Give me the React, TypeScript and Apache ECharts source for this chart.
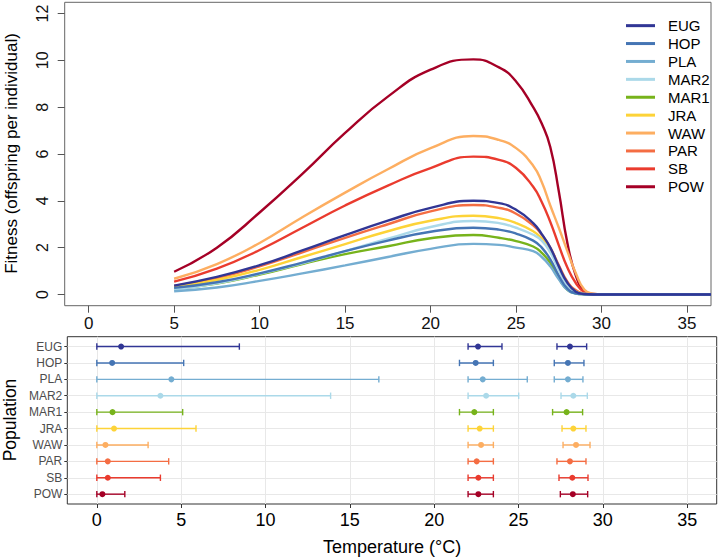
import React, { useEffect, useRef } from 'react';
import * as echarts from 'echarts';

const populations = ['EUG', 'HOP', 'PLA', 'MAR2', 'MAR1', 'JRA', 'WAW', 'PAR', 'SB', 'POW'];
const colors = ['#313695', '#4575b4', '#74add1', '#abd9e9', '#77b31b', '#fdd338', '#fdae61', '#f46d43', '#ea3b2e', '#a50026'];

// Temperature grid (°C) of the fitness curves
const temps = [5, 7.5, 10, 12.5, 15, 17.5, 20, 22.5, 24, 25, 26, 26.5, 27, 27.5, 28, 28.5, 29, 29.5, 30, 36.4];

const fitEUG = [0.38, 0.75, 1.25, 1.88, 2.53, 3.15, 3.7, 4.0, 3.9, 3.62, 3.05, 2.58, 2.0, 1.2, 0.5, 0.12, 0.02, 0, 0, 0];
const fitHOP = [0.28, 0.52, 0.9, 1.36, 1.85, 2.3, 2.68, 2.85, 2.77, 2.6, 2.3, 2.0, 1.5, 0.8, 0.25, 0.05, 0.01, 0, 0, 0];
const fitPLA = [0.14, 0.3, 0.58, 0.9, 1.24, 1.6, 1.95, 2.16, 2.12, 2.0, 1.85, 1.6, 1.2, 0.65, 0.2, 0.04, 0.01, 0, 0, 0];
const fitMAR2 = [0.22, 0.48, 0.88, 1.33, 1.85, 2.38, 2.88, 3.14, 3.05, 2.85, 2.55, 2.3, 1.8, 1.05, 0.4, 0.1, 0.02, 0, 0, 0];
const fitMAR1 = [0.25, 0.47, 0.85, 1.3, 1.72, 2.06, 2.4, 2.54, 2.42, 2.28, 2.05, 1.78, 1.35, 0.7, 0.2, 0.04, 0.01, 0, 0, 0];
const fitJRA = [0.32, 0.62, 1.05, 1.6, 2.15, 2.7, 3.15, 3.36, 3.26, 3.05, 2.7, 2.4, 1.9, 1.1, 0.45, 0.12, 0.02, 0, 0, 0];
const fitWAW = [0.67, 1.3, 2.2, 3.3, 4.35, 5.35, 6.25, 6.77, 6.6, 6.25, 5.5, 4.8, 3.8, 2.85, 1.85, 0.9, 0.2, 0.03, 0, 0];
const fitPAR = [0.36, 0.7, 1.2, 1.8, 2.42, 3.0, 3.55, 3.82, 3.7, 3.45, 2.95, 2.55, 2.0, 1.25, 0.55, 0.18, 0.04, 0, 0, 0];
const fitSB = [0.55, 1.1, 1.9, 2.85, 3.8, 4.65, 5.4, 5.89, 5.75, 5.4, 4.6, 3.95, 3.1, 2.1, 1.15, 0.48, 0.1, 0.01, 0, 0];
const fitPOW = [0.97, 2.0, 3.5, 5.15, 6.9, 8.45, 9.6, 10.04, 9.7, 9.1, 8.0, 7.3, 6.3, 4.4, 2.2, 0.8, 0.15, 0.02, 0, 0];

// Lower, optimum and upper thermal estimates with their intervals
const lowLo = [0, 0, 0, 0, 0, 0, 0, 0, 0, 0];
const lowMid = [1.44, 0.91, 4.42, 3.77, 0.93, 1.02, 0.51, 0.65, 0.65, 0.33];
const lowHi = [8.45, 5.15, 16.72, 13.86, 5.09, 5.88, 3.04, 4.26, 3.77, 1.66];
const optLo = [22.01, 21.5, 22.01, 22.01, 21.5, 22.01, 22.01, 22.01, 22.01, 22.01];
const optMid = [22.6, 22.46, 22.88, 23.08, 22.38, 22.7, 22.78, 22.52, 22.62, 22.62];
const optHi = [24.02, 23.51, 25.52, 25.01, 23.51, 23.51, 23.51, 23.51, 23.51, 23.51];
const maxLo = [27.28, 27.12, 27.12, 27.52, 27.02, 27.58, 27.64, 27.28, 27.4, 27.48];
const maxMid = [28.05, 27.93, 27.93, 28.25, 27.85, 28.25, 28.41, 28.05, 28.19, 28.22];
const maxHi = [29.04, 28.88, 28.82, 29.08, 28.8, 29.0, 29.24, 29.0, 29.12, 29.1];

const xTicks = [0, 5, 10, 15, 20, 25, 30, 35];
const yTicks = [0, 2, 4, 6, 8, 10, 12];
const rowTicks = [1, 2, 3, 4, 5, 6, 7, 8, 9, 10];

const FONT = '"Liberation Sans", Arial, Helvetica, sans-serif';

export default function App() {
  const ref = useRef<HTMLDivElement>(null);

  useEffect(() => {
    if (!ref.current) return;
    const chart = echarts.init(ref.current, null, { renderer: 'svg' });
    const fitness = [fitEUG, fitHOP, fitPLA, fitMAR2, fitMAR1, fitJRA, fitWAW, fitPAR, fitSB, fitPOW];

    const lineSeries = populations
      .map((p, i) => ({
        type: 'line',
        name: p,
        xAxisIndex: 0,
        yAxisIndex: 0,
        data: temps.map((t, j) => [t, fitness[i][j]]),
        smooth: 0.5,
        symbol: 'none',
        showSymbol: false,
        lineStyle: { width: 2.4, color: colors[i] },
        itemStyle: { color: colors[i] },
        clip: true,
      }))
      .reverse();

    const errSeries = populations.map((p, i) => ({
      type: 'custom',
      name: p + ' interval',
      xAxisIndex: 1,
      yAxisIndex: 1,
      data: [
        [lowLo[i], lowMid[i], lowHi[i], i + 1],
        [optLo[i], optMid[i], optHi[i], i + 1],
        [maxLo[i], maxMid[i], maxHi[i], i + 1],
      ],
      encode: { x: [0, 1, 2], y: 3 },
      renderItem: (params: any, api: any) => {
        const row = api.value(3);
        const lo = api.coord([api.value(0), row]);
        const mid = api.coord([api.value(1), row]);
        const hi = api.coord([api.value(2), row]);
        const c = 3.2;
        const st = { stroke: colors[i], lineWidth: 1.4 };
        return {
          type: 'group',
          children: [
            { type: 'line', shape: { x1: lo[0], y1: lo[1], x2: hi[0], y2: hi[1] }, style: st },
            { type: 'line', shape: { x1: lo[0], y1: lo[1] - c, x2: lo[0], y2: lo[1] + c }, style: st },
            { type: 'line', shape: { x1: hi[0], y1: hi[1] - c, x2: hi[0], y2: hi[1] + c }, style: st },
            { type: 'circle', shape: { cx: mid[0], cy: mid[1], r: 3 }, style: { fill: colors[i] } },
          ],
        };
      },
    }));

    const option: any = {
      animation: false,
      backgroundColor: '#ffffff',
      textStyle: { fontFamily: FONT },
      grid: [
        { left: 64.7, top: 2.3, width: 646.3, height: 303.4, show: true, borderColor: '#666', borderWidth: 1, backgroundColor: '#fff', outerBoundsMode: 'none' },
        { left: 67.3, top: 336.7, width: 649.4, height: 167.3, show: true, borderColor: '#333', borderWidth: 1, backgroundColor: '#fff', outerBoundsMode: 'none' },
      ],
      xAxis: [
        {
          gridIndex: 0, type: 'value', min: -1.4, max: 36.4, position: 'bottom',
          axisLine: { show: false, onZero: false },
          splitLine: { show: false },
          axisTick: { show: true, length: 7, customValues: xTicks, lineStyle: { color: '#555' } },
          axisLabel: { customValues: xTicks, fontSize: 17, color: '#111', margin: 9, fontFamily: FONT },
        },
        {
          gridIndex: 1, type: 'value', min: -1.75, max: 36.75, position: 'bottom',
          axisLine: { show: false, onZero: false },
          splitLine: { show: true, lineStyle: { color: '#e8e8e8', width: 1 } },
          axisTick: { show: true, length: 4, customValues: xTicks, lineStyle: { color: '#333' } },
          axisLabel: { customValues: xTicks, fontSize: 18, color: '#000', margin: 7, fontFamily: FONT },
        },
      ],
      yAxis: [
        {
          gridIndex: 0, type: 'value', min: -0.48, max: 12.48, position: 'left',
          axisLine: { show: false, onZero: false },
          splitLine: { show: false },
          axisTick: { show: true, length: 7, customValues: yTicks, lineStyle: { color: '#555' } },
          axisLabel: { customValues: yTicks, fontSize: 16, color: '#111', margin: 14, rotate: 90, fontFamily: FONT },
        },
        {
          gridIndex: 1, type: 'value', min: 0.4, max: 10.6, inverse: true, position: 'left',
          axisLine: { show: false, onZero: false },
          splitLine: { show: true, lineStyle: { color: '#e8e8e8', width: 1 } },
          axisTick: { show: true, length: 3, customValues: rowTicks, lineStyle: { color: '#333' } },
          axisLabel: {
            customValues: rowTicks, fontSize: 12, color: '#4d4d4d', margin: 5, fontFamily: FONT,
            formatter: (v: number) => populations[Math.round(v) - 1] || '',
          },
        },
      ],
      legend: {
        data: populations,
        orient: 'vertical',
        left: 621,
        top: 11.7,
        itemWidth: 29,
        itemHeight: 3,
        itemGap: 0,
        icon: 'rect',
        selectedMode: false,
        textStyle: { fontSize: 15, lineHeight: 17.9, color: '#000', padding: [0, 0, 0, 8], fontFamily: FONT },
      },
      graphic: [
        { type: 'text', x: 11, y: 153.5, rotation: Math.PI / 2, style: { text: 'Fitness (offspring per individual)', font: `17px ${FONT}`, fill: '#000', textAlign: 'center', textVerticalAlign: 'middle' } },
        { type: 'text', x: 10, y: 420, rotation: Math.PI / 2, style: { text: 'Population', font: `17.5px ${FONT}`, fill: '#000', textAlign: 'center', textVerticalAlign: 'middle' } },
        { type: 'text', x: 392, y: 546.7, style: { text: 'Temperature (°C)', font: `18px ${FONT}`, fill: '#000', textAlign: 'center', textVerticalAlign: 'middle' } },
      ],
      series: [...lineSeries, ...errSeries],
    };

    chart.setOption(option);
    return () => chart.dispose();
  }, []);

  return <div ref={ref} style={{ position: 'fixed', left: 0, top: 0, width: 720, height: 559 }} />;
}
